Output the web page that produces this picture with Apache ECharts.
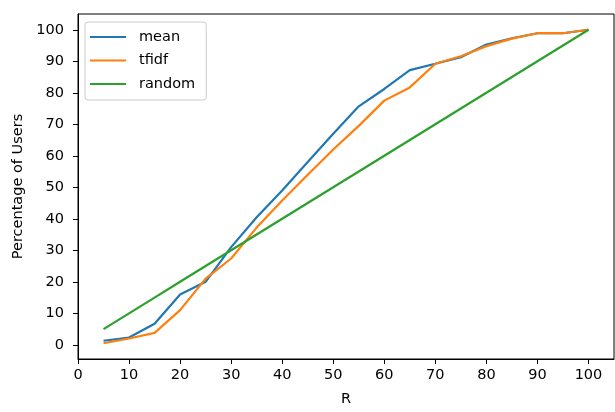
<!DOCTYPE html>
<html>
<head>
<meta charset="utf-8">
<script src="https://cdn.jsdelivr.net/npm/echarts@6/dist/echarts.min.js"></script>
<style>
html,body{margin:0;padding:0;background:#fff;}
#chart{width:615px;height:412px;}
</style>
</head>
<body>
<div id="chart"></div>
<script>
const R = [5,10,15,20,25,30,35,40,45,50,55,60,65,70,75,80,85,90,95,100];
const meanVals = [1.3,2.3,6.7,16.0,20.0,31.0,40.5,49.0,58.0,67.0,75.7,81.2,87.2,89.2,91.3,95.3,97.3,98.9,98.9,100];
const tfidfVals = [0.5,2.0,3.8,11.0,21.0,27.4,37.2,45.8,54.0,62.0,69.5,77.5,81.7,89.2,91.6,94.8,97.2,98.9,98.9,100];
const randomVals = [5,10,15,20,25,30,35,40,45,50,55,60,65,70,75,80,85,90,95,100];
const seriesNames = ['mean','tfidf','random'];
const colors = ['#1f77b4','#ff7f0e','#2ca02c'];

const pair = (xs, ys) => xs.map((x,i)=>[x, ys[i]]);
const font = 'DejaVu Sans';
const fs = 14.5;
const chart = echarts.init(document.getElementById('chart'), null, {renderer:'canvas'});
const axisCommon = {
  axisLine:{show:true, onZero:false, lineStyle:{color:'#000', width:1}},
  axisTick:{show:true, inside:false, length:5, lineStyle:{color:'#000', width:1}},
  splitLine:{show:false},
  axisLabel:{color:'#000', fontFamily:font, fontSize:fs},
  nameTextStyle:{color:'#000', fontFamily:font, fontSize:fs}
};
chart.setOption({
  animation:false,
  backgroundColor:'#fff',
  grid:{left:78, right:1, top:14, bottom:49, show:true, borderColor:'#000', borderWidth:1, backgroundColor:'transparent'},
  legend:{
    orient:'vertical', left:85, top:22,
    data:seriesNames,
    icon:'rect', itemWidth:36, itemHeight:2,
    itemGap:7.5,
    backgroundColor:'#fff', borderColor:'#cccccc', borderWidth:1, borderRadius:3,
    padding:[7,11,8,5],
    textStyle:{color:'#000', fontFamily:font, fontSize:fs, lineHeight:16, padding:[0,0,0,8]}
  },
  xAxis:Object.assign({}, axisCommon, {
    type:'value', min:0, max:105, splitNumber:11,
    name:'R', nameLocation:'middle', nameGap:33,
    axisLabel:Object.assign({}, axisCommon.axisLabel, {margin:9, showMinLabel:true, showMaxLabel:false})
  }),
  yAxis:Object.assign({}, axisCommon, {
    type:'value', min:-4.5, max:105, splitNumber:11,
    name:'Percentage of Users', nameLocation:'middle', nameGap:50, nameRotate:90,
    axisLabel:Object.assign({}, axisCommon.axisLabel, {margin:14, showMinLabel:false, showMaxLabel:false})
  }),
  series:[
    {name:seriesNames[0], type:'line', data:pair(R, meanVals), showSymbol:false, symbol:'none', lineStyle:{color:colors[0], width:2.2}, itemStyle:{color:colors[0]}},
    {name:seriesNames[1], type:'line', data:pair(R, tfidfVals), showSymbol:false, symbol:'none', lineStyle:{color:colors[1], width:2.2}, itemStyle:{color:colors[1]}},
    {name:seriesNames[2], type:'line', data:pair(R, randomVals), showSymbol:false, symbol:'none', lineStyle:{color:colors[2], width:2.2}, itemStyle:{color:colors[2]}}
  ]
});
</script>
</body>
</html>
